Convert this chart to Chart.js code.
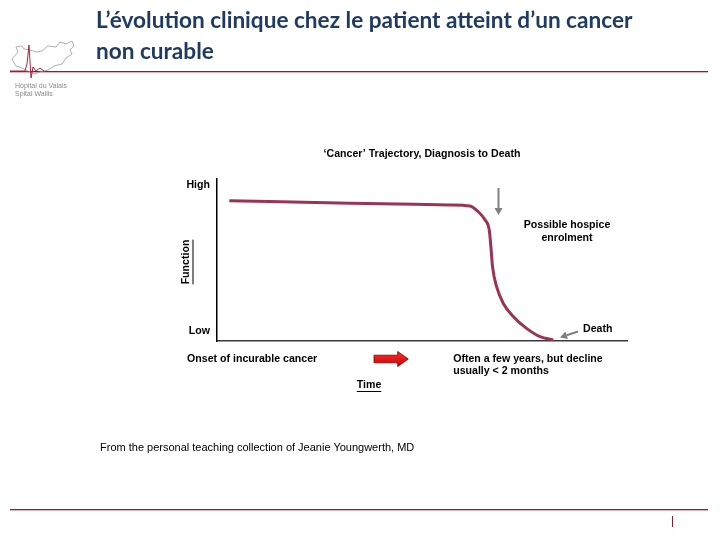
<!DOCTYPE html>
<html>
<head>
<meta charset="utf-8">
<script src="https://cdn.jsdelivr.net/npm/chart.js@4.4.1/dist/chart.umd.min.js"></script>
<style>
    body { margin: 0; width: 720px; height: 540px; position: relative; overflow: hidden; background: #fff; }
    #Wykres_1 { position: absolute; left: 0; top: 0; }
    .titre { position: absolute; left: 96px; top: 4px; margin: 0; font: bold 22.6px/31px Lato, sans-serif; color: #1f3b63; }
    .trait { position: absolute; left: 10px; width: 698px; height: 1px; background: #a3132f; box-shadow: 0 1px 0 #e6b3bd; }
    .logo { position: absolute; left: 8px; top: 38px; }
    .logo-txt { position: absolute; left: 15px; top: 82px; font: 7px/8px "Liberation Sans", Arial, sans-serif; color: #8a8a8a; }
    .source { position: absolute; left: 100px; top: 441px; font: 11px/13px "Liberation Sans", Arial, sans-serif; color: #000; }
    .page { position: absolute; left: 672px; top: 516px; width: 1px; height: 11px; background: #8b1a2a; }
</style>
</head>
<body>
<canvas id="Wykres_1" width="720" height="540"></canvas>

<div class="titre">L’évolution clinique chez le patient atteint d’un cancer<br>non curable</div>
<div class="trait" style="top:71px"></div>
<div class="trait" style="top:509px"></div>
<div class="page"></div>

<svg class="logo" width="70" height="44" viewBox="0 0 70 44">
    <path d="M4 21 L10 14 L8 9 L14 8 L16 11 L22 12 L28 14 L34 13 L40 8 L48 9 L52 4 L58 6 L64 3 L66 8 L62 12 L64 16 L58 20 L54 26 L46 28 L40 32 L32 34 L26 36 L20 33 L14 30 L8 28 Z"
          fill="none" stroke="#9a9a9a" stroke-width="0.8"/>
    <path d="M2 33 L17 33 L19 26 L21 7 L23 40 L25 29 L28 33 L32 30 L36 33" fill="none" stroke="#b0203a" stroke-width="1"/>
</svg>
<div class="logo-txt">Hôpital du Valais<br>Spital Wallis</div>

<div class="source">From the personal teaching collection of Jeanie Youngwerth, MD</div>

<script>
// trajektoria: czas (0-100) i funkcja (0-100)
const czas = [3.0, 32.4, 56.8, 61.7, 63.7, 65.4, 66.4, 66.8, 67.2, 68.2, 69.8, 72.3, 75.5, 78.8, 82.0];
const funkcja = [86.6, 85.0, 84.0, 83.3, 79.8, 74.7, 68.5, 58.2, 45.9, 33.5, 23.3, 15.0, 7.8, 2.7, 0.6];

const yTicks = [6.2, 96.3];
const yLabels = ['Low', 'High'];
const xTicks = [-7.3, 57.6];
const xLabels = [['Onset of incurable cancer'], ['Often a few years, but decline', 'usually < 2 months']];

const chartTitle = '‘Cancer’ Trajectory, Diagnosis to Death';
const FONT = '"Liberation Sans", Arial, sans-serif';

function podkreslony(ctx, text, x, y) {
    ctx.fillText(text, x, y);
    const w = ctx.measureText(text).width;
    ctx.fillRect(x - w / 2, y + 6, w, 1);
}

function strzalka(ctx, x1, y1, x2, y2) {
    const ang = Math.atan2(y2 - y1, x2 - x1);
    const hx = x2 - 7 * Math.cos(ang), hy = y2 - 7 * Math.sin(ang);
    ctx.beginPath();
    ctx.moveTo(x1, y1);
    ctx.lineTo(hx, hy);
    ctx.stroke();
    ctx.beginPath();
    ctx.moveTo(x2, y2);
    ctx.lineTo(hx + 4 * Math.sin(ang), hy - 4 * Math.cos(ang));
    ctx.lineTo(hx - 4 * Math.sin(ang), hy + 4 * Math.cos(ang));
    ctx.closePath();
    ctx.fill();
}

const opisy = {
    id: 'opisy',
    afterDraw(chart) {
        const ctx = chart.ctx;
        const a = chart.chartArea;
        ctx.save();
        ctx.fillStyle = '#000';
        ctx.font = 'bold 10.6px ' + FONT;
        ctx.textBaseline = 'middle';
        ctx.textAlign = 'center';

        ctx.fillText(chartTitle, a.left + 205, a.top - 25);
        ctx.fillText('Possible hospice', a.left + 350, a.top + 46);
        ctx.fillText('enrolment', a.left + 350, a.top + 59);
        ctx.textAlign = 'left';
        ctx.fillText('Death', a.left + 366, a.top + 150);

        // Function (pionowo) i Time
        ctx.textAlign = 'center';
        ctx.save();
        ctx.translate(a.left - 30.5, a.top + 83);
        ctx.rotate(-Math.PI / 2);
        podkreslony(ctx, 'Function', 0, 0);
        ctx.restore();
        podkreslony(ctx, 'Time', a.left + 152, a.bottom + 44);

        // szare strzalki
        ctx.strokeStyle = '#808080';
        ctx.fillStyle = '#808080';
        ctx.lineWidth = 2;
        strzalka(ctx, a.left + 281.5, a.top + 9, a.left + 281.5, a.top + 36);
        strzalka(ctx, a.left + 361, a.bottom - 9.5, a.left + 343, a.bottom - 3.5);

        // czerwona strzalka
        const x0 = a.left + 157, y0 = a.bottom + 18;
        const g = ctx.createLinearGradient(0, y0 - 8, 0, y0 + 8);
        g.addColorStop(0, '#ff3030');
        g.addColorStop(1, '#c80000');
        ctx.fillStyle = g;
        ctx.strokeStyle = '#7a0000';
        ctx.lineWidth = 0.8;
        ctx.beginPath();
        ctx.moveTo(x0, y0 - 3.8);
        ctx.lineTo(x0 + 23.7, y0 - 3.8);
        ctx.lineTo(x0 + 23.7, y0 - 7.5);
        ctx.lineTo(x0 + 34.3, y0);
        ctx.lineTo(x0 + 23.7, y0 + 7.5);
        ctx.lineTo(x0 + 23.7, y0 + 3.8);
        ctx.lineTo(x0, y0 + 3.8);
        ctx.closePath();
        ctx.fill();
        ctx.stroke();
        ctx.restore();
    }
};

document.addEventListener("DOMContentLoaded", function() {
    const ctx = document.getElementById('Wykres_1').getContext('2d');
    new Chart(ctx, {
        type: 'line',
        data: {
            datasets: [{
                label: 'Function',
                data: czas.map((x, i) => ({ x: x, y: funkcja[i] })),
                borderColor: '#9b3356',
                borderWidth: 3,
                pointRadius: 0,
                cubicInterpolationMode: 'monotone',
                fill: false
            }]
        },
        options: {
            responsive: false,
            animation: false,
            devicePixelRatio: 1,
            layout: { padding: { left: 177, right: 93, top: 179, bottom: 139 } },
            plugins: {
                legend: { display: false },
                tooltip: { enabled: false }
            },
            scales: {
                x: {
                    type: 'linear',
                    min: 0,
                    max: 100,
                    afterFit: function(s) { s.height = 60; },
                    afterBuildTicks: function(s) { s.ticks = xTicks.map(v => ({ value: v })); },
                    grid: { display: false, drawTicks: false },
                    border: { display: true, color: '#3a3a3a', width: 1.5 },
                    ticks: {
                        autoSkip: false,
                        maxRotation: 0,
                        align: 'start',
                        padding: 12,
                        color: '#000',
                        font: { family: FONT, size: 10.6, weight: 'bold', lineHeight: 1.12 },
                        callback: function(v, i) { return xLabels[i]; }
                    }
                },
                y: {
                    min: 0,
                    max: 100,
                    afterFit: function(s) { s.width = 40; },
                    afterBuildTicks: function(s) { s.ticks = yTicks.map(v => ({ value: v })); },
                    grid: { display: false, drawTicks: false },
                    border: { display: true, color: '#000', width: 1.5 },
                    ticks: {
                        padding: 7,
                        color: '#000',
                        font: { family: FONT, size: 10.6, weight: 'bold' },
                        callback: function(v, i) { return yLabels[i]; }
                    }
                }
            }
        },
        plugins: [opisy]
    });
});
</script>
</body>
</html>
